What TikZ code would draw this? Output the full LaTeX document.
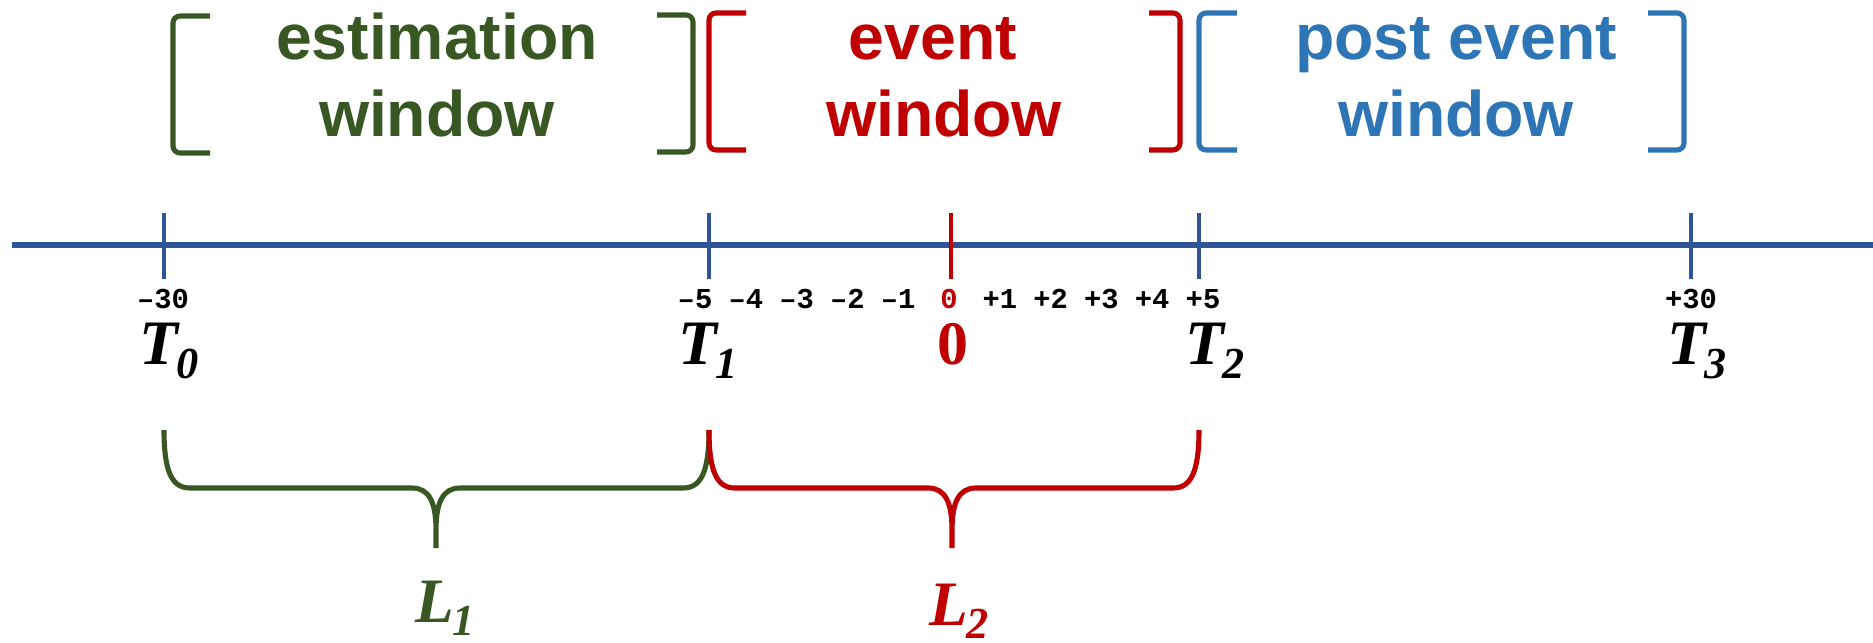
\documentclass[tikz,border=0pt]{standalone}
\usepackage{fontspec}
\setmainfont{Liberation Serif}
\newfontfamily\lsans{Liberation Sans}
\newfontfamily\lmono{Liberation Mono}
\definecolor{wgreen}{HTML}{385723}
\definecolor{wred}{HTML}{C00000}
\definecolor{wblue}{HTML}{2E75B6}
\definecolor{axisblue}{HTML}{2F5597}
\newcommand{\Tlab}[2]{{\fontsize{18}{20}\selectfont\bfseries\itshape #1\kern-0.6pt\raisebox{-3.7pt}{\fontsize{12.6}{14}\selectfont #2}}}
\begin{document}
\begin{tikzpicture}[x=0.01cm,y=-0.01cm,
  axisline/.style={draw=axisblue,line width=1.6pt},
  tickmark/.style={draw=axisblue,line width=1.15pt},
  bracketline/.style={line width=1.45pt,rounded corners=2pt,line cap=butt},
  braceline/.style={line width=1.45pt,line join=round},
  ticklab/.style={font=\lmono\bfseries\fontsize{8.2}{9}\selectfont,anchor=base,inner sep=0pt},
  winlab/.style={font=\lsans\bfseries\fontsize{18.3}{21.9}\selectfont,align=center,anchor=base,inner sep=0pt},
  bigT/.style={anchor=base,inner sep=0pt}]
\useasboundingbox (0,0) rectangle (1873,643);
% axis
\coordinate (axL) at (12,245);
\coordinate (axR) at (1873,245);
\draw[axisline] (axL) -- (axR);
% ticks
\coordinate (t0) at (164,245);
\coordinate (t1) at (709,245);
\coordinate (tz) at (951,245);
\coordinate (t2) at (1199,245);
\coordinate (t3) at (1691,245);
\foreach \c in {t0,t1,t2,t3}{\draw[tickmark] ([yshift=-34*0.01cm]\c) -- ([yshift=32*0.01cm]\c);}
\draw[tickmark,draw=wred] ([yshift=-34*0.01cm]tz) -- ([yshift=32*0.01cm]tz);
% tick labels
\node[ticklab] (lm30) at (163,309) {–30};
\node[ticklab] (lp30) at (1691,309) {+30};
\foreach \v [count=\i from 0] in {–5,–4,–3,–2,–1}{
  \node[ticklab] (lm\i) at (695+50.8*\i,309) {\v};}
\node[ticklab,text=wred] (lz) at (949,309) {0};
\foreach \v [count=\i from 1] in {+1,+2,+3,+4,+5}{
  \node[ticklab] (lp\i) at (949+50.8*\i,309) {\v};}
% T labels
\node[bigT] (T0) at (169,365) {\Tlab{T}{0}};
\node[bigT] (T1) at (708,365) {\Tlab{T}{1}};
\node[bigT] (T2) at (1215,365) {\Tlab{T}{2}};
\node[bigT] (T3) at (1697,365) {\Tlab{T}{3}};
\node[bigT,text=wred] (Z) at (953,365) {\fontsize{17.6}{20}\selectfont\bfseries 0};
% window labels (base anchor = last line baseline)
\node[winlab,text=wgreen] (est) at (437,137) {estimation\\window};
\node[winlab,text=wred] (evt) at (944,137) {event\kern6.3pt\\window};
\node[winlab,text=wblue] (post) at (1456,137) {post event\\window};
% brackets
\draw[bracketline,wgreen] (210,16) -- (173,16) -- (173,153) -- (210,153);
\draw[bracketline,wgreen] (657,15) -- (693,15) -- (693,152) -- (657,152);
\draw[bracketline,wred] (746,13) -- (709,13) -- (709,150) -- (746,150);
\draw[bracketline,wred] (1149,13) -- (1180,13) -- (1180,150) -- (1149,150);
\draw[bracketline,wblue] (1237,13) -- (1199,13) -- (1199,150) -- (1237,150);
\draw[bracketline,wblue] (1648,13) -- (1684,13) -- (1684,150) -- (1648,150);
% braces
\draw[braceline,wgreen] (164,430) .. controls (164,472) and (172,488) .. (190,488) -- (412,488)
   .. controls (429,488) and (436,502) .. (436,530) -- (436,548)
   (436,548) -- (436,530) .. controls (436,502) and (443,488) .. (460,488) -- (683,488)
   .. controls (701,488) and (709,472) .. (709,430);
\draw[braceline,wred] (709,430) .. controls (709,472) and (717,488) .. (735,488) -- (928,488)
   .. controls (945,488) and (952,502) .. (952,530) -- (952,548)
   (952,548) -- (952,530) .. controls (952,502) and (959,488) .. (976,488) -- (1173,488)
   .. controls (1191,488) and (1199,472) .. (1199,430);
\node[bigT,text=wgreen] (L1) at (445,622) {\Tlab{L}{1}};
\node[bigT,text=wred] (L2) at (959,625) {\Tlab{L}{2}};
\end{tikzpicture}
\end{document}
